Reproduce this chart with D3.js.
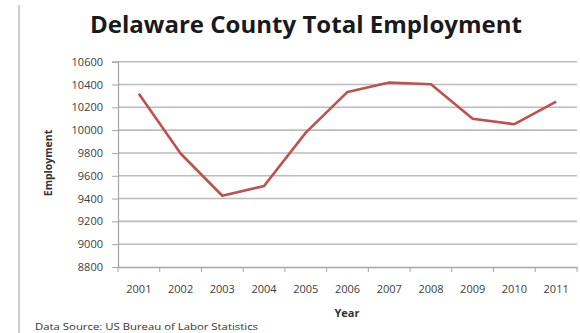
<!DOCTYPE html>
<html><head><meta charset="utf-8">
<script src="https://cdn.jsdelivr.net/npm/d3@7"></script>
<style>body{margin:0;background:#fff}svg{display:block}</style>
</head><body>
<svg id="c" width="580" height="333"></svg>
<script>
const years = ["2001","2002","2003","2004","2005","2006","2007","2008","2009","2010","2011"];
const employment = [10320, 9795, 9425, 9510, 9978, 10335, 10418, 10402, 10100, 10052, 10250];
const yTicks = [8800, 9000, 9200, 9400, 9600, 9800, 10000, 10200, 10400, 10600];
const title = "Delaware County Total Employment";
const xTitle = "Year", yTitle = "Employment";
const source = "Data Source: US Bureau of Labor Statistics";

const svg = d3.select("#c");
const font = "'Open Sans', 'Noto Sans', sans-serif";
const L = 118, R = 577, T = 61.7, B = 267;

// left border line
svg.append("line").attr("x1",19).attr("x2",19).attr("y1",5).attr("y2",333)
  .attr("stroke","#bdbdbd").attr("stroke-width",1.5);

const x = d3.scaleBand().domain(years).range([L,R]);
const y = d3.scaleLinear().domain([8800,10600]).range([B,T]);

// gridlines
svg.append("g").selectAll("line").data(yTicks.slice(1)).join("line")
  .attr("x1",L).attr("x2",R).attr("y1",d=>y(d)).attr("y2",d=>y(d))
  .attr("stroke","#bcbcbc").attr("stroke-width",1.6);

// y axis
const ya = svg.append("g").attr("transform",`translate(${L},0)`)
  .call(d3.axisLeft(y).tickValues(yTicks).tickSize(6).tickPadding(9).tickFormat(d3.format("d")));
ya.select(".domain").attr("stroke","#a6a6a6").attr("stroke-width",1.2);
ya.selectAll(".tick line").attr("stroke","#a6a6a6");
ya.selectAll("text").attr("font-family",font).attr("font-size",11).attr("fill","#404040");

// x axis
const xa = svg.append("g").attr("transform",`translate(0,${B})`)
  .call(d3.axisBottom(x).tickSize(0).tickPadding(18));
xa.select(".domain").attr("stroke","#a6a6a6").attr("stroke-width",1.6);
xa.selectAll("text").attr("font-family",font).attr("font-size",11).attr("fill","#404040");
// category boundary ticks
const bounds = years.map(d=>x(d)).concat([R]);
svg.append("g").selectAll("line").data(bounds).join("line")
  .attr("x1",d=>d).attr("x2",d=>d).attr("y1",B).attr("y2",B+5)
  .attr("stroke","#a6a6a6");

// line
const line = d3.line().x((d,i)=>x(years[i])+x.bandwidth()/2).y(d=>y(d));
svg.append("path").datum(employment).attr("d",line)
  .attr("fill","none").attr("stroke","#c0504d").attr("stroke-width",2.6)
  .attr("stroke-linejoin","round");

// texts
svg.append("text").attr("x",306).attr("y",33).attr("text-anchor","middle")
  .attr("font-family",font).attr("font-weight","bold").attr("font-size",23)
  .attr("fill","#1a1a1a").attr("textLength",432).attr("lengthAdjust","spacingAndGlyphs").text(title);
svg.append("text").attr("x",347).attr("y",317).attr("text-anchor","middle")
  .attr("font-family",font).attr("font-weight","bold").attr("font-size",11)
  .attr("fill","#333").text(xTitle);
svg.append("text").attr("transform","translate(52,163) rotate(-90)").attr("text-anchor","middle")
  .attr("font-family",font).attr("font-weight","bold").attr("font-size",10.5)
  .attr("fill","#333").text(yTitle);
svg.append("text").attr("x",35).attr("y",330)
  .attr("font-family",font).attr("font-size",9)
  .attr("fill","#333").attr("textLength",223).attr("lengthAdjust","spacingAndGlyphs").text(source);
</script>
</body></html>
